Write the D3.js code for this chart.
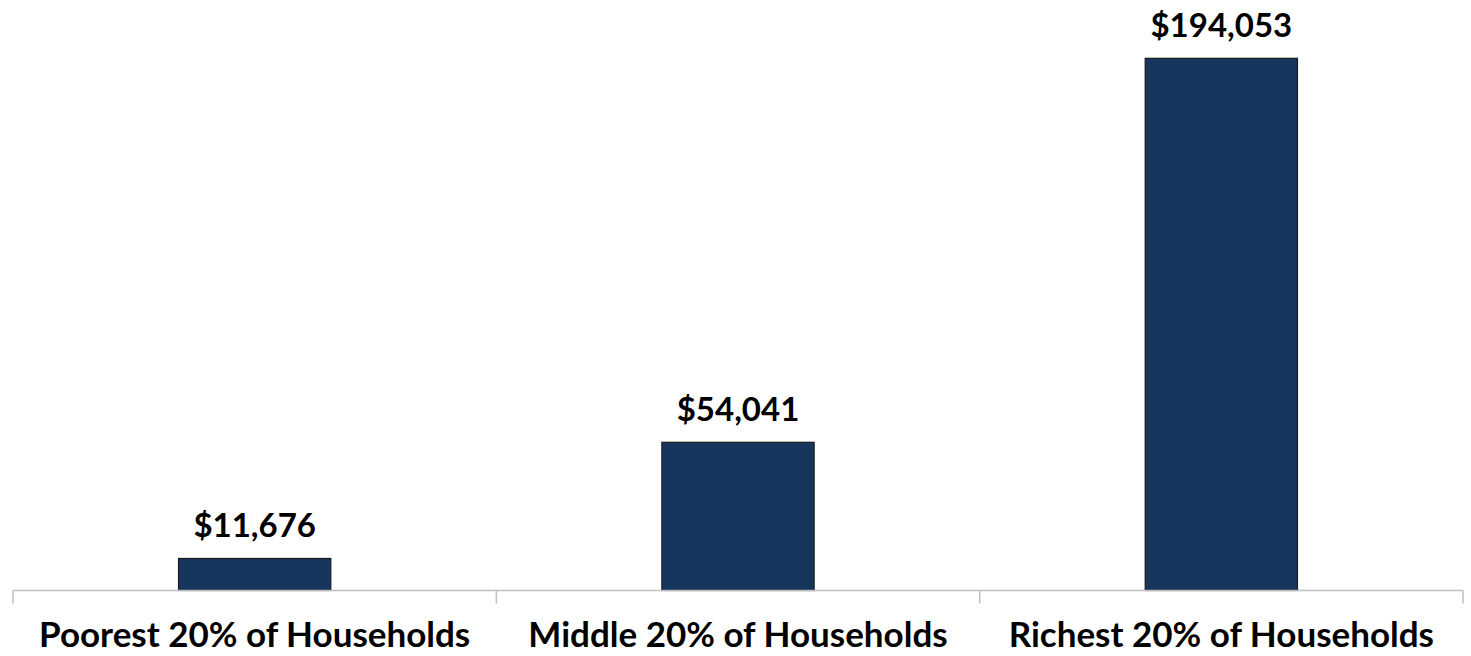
<!DOCTYPE html>
<html>
<head>
<meta charset="utf-8">
<script src="https://cdn.jsdelivr.net/npm/d3@7"></script>
<style>
  body { margin: 0; background: #fff; }
  text { font-family: Lato, "Open Sans", sans-serif; font-weight: bold; fill: #000; }
</style>
</head>
<body>
<script>
// Chart data
var categories = ["Poorest 20% of Households", "Middle 20% of Households", "Richest 20% of Households"];
var values = [11676, 54041, 194053];
var valueLabels = ["$11,676", "$54,041", "$194,053"];

var width = 1471,
    height = 656;

// plot area (axis runs from 13 to 1463, baseline at ~590)
var plotLeft = 13, plotRight = 1463, baseline = 590.5, plotTop = 42;

var svg = d3.select("body").append("svg")
    .attr("width", width)
    .attr("height", height);

var x = d3.scaleBand()
    .domain(categories)
    .range([plotLeft, plotRight])
    .paddingInner(0.685)
    .paddingOuter(0.3425);

// Excel-like axis max of 200,000
var y = d3.scaleLinear()
    .domain([0, 200000])
    .range([baseline, plotTop]);

var data = categories.map(function(c, i) {
  return { cat: c, value: values[i], label: valueLabels[i] };
});

// Bars
svg.append("g").attr("class", "bars")
  .selectAll("rect")
    .data(data)
  .enter().append("rect")
    .attr("x", function(d) { return x(d.cat); })
    .attr("y", function(d) { return y(d.value); })
    .attr("width", x.bandwidth())
    .attr("height", function(d) { return baseline - y(d.value); })
    .style("fill", "#17365d")
    .style("stroke", "#1a1a1a")
    .style("stroke-width", 1.2);

// Value labels above the bars
svg.append("g").attr("class", "values")
  .selectAll("text")
    .data(data)
  .enter().append("text")
    .attr("x", function(d) { return x(d.cat) + x.bandwidth() / 2; })
    .attr("y", function(d) { return y(d.value) - 21; })
    .attr("text-anchor", "middle")
    .style("font-size", "33px")
    .text(function(d) { return d.label; });

// Category axis: line with ticks between categories
var tickPos = d3.range(categories.length + 1).map(function(i) {
  return plotLeft + i * (plotRight - plotLeft) / categories.length;
});

var axis = svg.append("g").attr("class", "axis");
axis.append("line")
    .attr("x1", plotLeft).attr("x2", plotRight)
    .attr("y1", baseline).attr("y2", baseline)
    .style("stroke", "#bfbfbf").style("stroke-width", 1.5);
axis.selectAll("line.tick")
    .data(tickPos)
  .enter().append("line")
    .attr("class", "tick")
    .attr("x1", function(d) { return d; }).attr("x2", function(d) { return d; })
    .attr("y1", baseline).attr("y2", baseline + 13)
    .style("stroke", "#bfbfbf").style("stroke-width", 1.5);

axis.selectAll("text")
    .data(categories)
  .enter().append("text")
    .attr("x", function(d) { return x(d) + x.bandwidth() / 2; })
    .attr("y", 647)
    .attr("text-anchor", "middle")
    .style("font-size", "35px")
    .text(function(d) { return d; });
</script>
</body>
</html>
